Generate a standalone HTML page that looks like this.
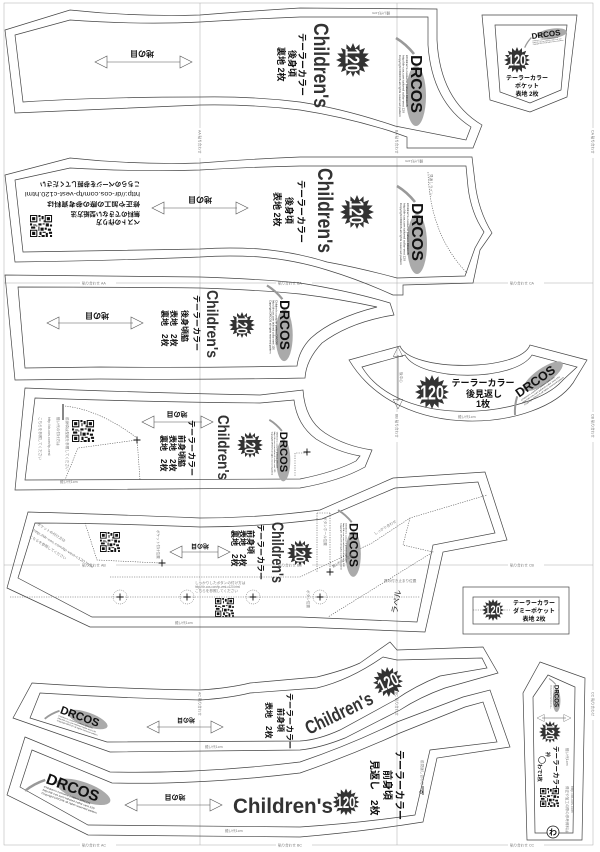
<!DOCTYPE html>
<html><head><meta charset="utf-8"><style>
html,body{margin:0;padding:0;background:#fff}
svg{display:block}
text{font-family:"Liberation Sans","Noto Sans CJK JP",sans-serif}
.o{fill:none;stroke:#444;stroke-width:.7}
.g{stroke:#aaa;stroke-width:.5;fill:none}
.d{fill:none;stroke:#555;stroke-width:.6;stroke-dasharray:1.2 1.2}
.j{font-weight:bold;fill:#111}
.t{font-size:3.6px;fill:#777}
.ch{font-weight:bold;fill:#333}
.ar{fill:none;stroke:#555;stroke-width:.6}
</style></head><body>
<svg width="600" height="852" viewBox="0 0 600 852" xmlns="http://www.w3.org/2000/svg">
<defs>
<g id="b120">
<polygon fill="#333" points="10,0 6.87,1.37 9.24,3.83 5.82,3.89 7.07,7.07 3.89,5.82 3.83,9.24 1.37,6.87 0,10 -1.37,6.87 -3.83,9.24 -3.89,5.82 -7.07,7.07 -5.82,3.89 -9.24,3.83 -6.87,1.37 -10,0 -6.87,-1.37 -9.24,-3.83 -5.82,-3.89 -7.07,-7.07 -3.89,-5.82 -3.83,-9.24 -1.37,-6.87 0,-10 1.37,-6.87 3.83,-9.24 3.89,-5.82 7.07,-7.07 5.82,-3.89 9.24,-3.83 6.87,-1.37"/>
<text x="0" y="4.3" font-size="12" font-weight="bold" fill="#fff" text-anchor="middle" textLength="14" lengthAdjust="spacingAndGlyphs">120</text>
</g>
<g id="logo">
<path d="M-46,21 Q-40,11 -30,3" stroke="#999" stroke-width="2.6" fill="none"/>
<ellipse cx="12" cy="1" rx="30" ry="10" fill="#aaa"/>
<text x="0" y="6" font-size="16" font-weight="bold" fill="#111" text-anchor="middle" textLength="58" lengthAdjust="spacingAndGlyphs">DRCOS</text>
<text x="-29" y="11" font-size="2.6" fill="#222" textLength="52" lengthAdjust="spacingAndGlyphs">Children's costume pattern DRCOS</text>
<text x="-29" y="14.5" font-size="2.6" fill="#222" textLength="58" lengthAdjust="spacingAndGlyphs">http://dr-cos.com tailored collar vest 120</text>
<text x="-29" y="18" font-size="2.6" fill="#222" textLength="62" lengthAdjust="spacingAndGlyphs">Copyright DRCOS all rights reserved pattern</text>
</g>
<g id="qr">
<rect width="21" height="21" fill="#fff"/>
<path d="M0,0h7v7h-7zM14,0h7v7h-7zM0,14h7v7h-7z" fill="#111"/>
<path d="M1,1h5v5h-5zM15,1h5v5h-5zM1,15h5v5h-5z" fill="#fff"/>
<path d="M2,2h3v3h-3zM16,2h3v3h-3zM2,16h3v3h-3zM8,0h2v2h-2zM11,1h2v3h-2zM9,3h1v3h-1zM8,8h3v2h-3zM12,8h2v1h-2zM15,8h3v3h-3zM19,9h2v2h-2zM0,8h2v2h-2zM3,9h3v1h-3zM1,11h4v2h-4zM8,11h1v4h-1zM10,12h3v3h-3zM14,12h2v2h-2zM17,13h3v2h-3zM9,16h2v3h-2zM12,16h3v1h-3zM15,17h2v4h-2zM18,16h3v2h-3zM11,19h3v2h-3zM19,19h2v2h-2zM8,20h2v1h-2zM6,10h1v1h-1zM13,5h1v2h-1z" fill="#111"/>
</g>
<g id="arrL"><polygon class="ar" points="0,0 12,-6 12,6"/></g>
<g id="plus"><path d="M-3.5,0H3.5M0,-3.5V3.5" stroke="#111" stroke-width=".9"/></g>
</defs>

<rect width="600" height="852" fill="#fff"/>
<!-- guides -->
<rect x="4" y="3" width="589" height="842" class="g"/>
<path class="g" d="M200,3V845M397,3V845M4,283H593M4,565H593"/>
<g class="t">
<rect x="80" y="281" width="36" height="4" fill="#fff"/><text x="82" y="284.3">貼り合わせ AA</text>
<rect x="276" y="281" width="36" height="4" fill="#fff"/><text x="278" y="284.3">貼り合わせ BA</text>
<rect x="508" y="281" width="36" height="4" fill="#fff"/><text x="510" y="284.3">貼り合わせ CA</text>
<rect x="80" y="563" width="36" height="4" fill="#fff"/><text x="82" y="566.3">貼り合わせ AB</text>
<rect x="276" y="563" width="36" height="4" fill="#fff"/><text x="278" y="566.3">貼り合わせ BB</text>
<rect x="508" y="563" width="36" height="4" fill="#fff"/><text x="510" y="566.3">貼り合わせ CB</text>
<rect x="80" y="843" width="36" height="4" fill="#fff"/><text x="82" y="846.3">貼り合わせ AC</text>
<rect x="276" y="843" width="36" height="4" fill="#fff"/><text x="278" y="846.3">貼り合わせ BC</text>
<rect x="508" y="843" width="36" height="4" fill="#fff"/><text x="510" y="846.3">貼り合わせ CC</text>
<rect x="198" y="128" width="4" height="30" fill="#fff"/><text transform="translate(198.7,130) rotate(90)">AA 貼り合わせ</text>
<rect x="395" y="128" width="4" height="30" fill="#fff"/><text transform="translate(395.7,130) rotate(90)">BA 貼り合わせ</text>
<rect x="591" y="128" width="4" height="30" fill="#fff"/><text transform="translate(591.7,130) rotate(90)">CA 貼り合わせ</text>
<rect x="395" y="412" width="4" height="30" fill="#fff"/><text transform="translate(395.7,414) rotate(90)">BB 貼り合わせ</text>
<rect x="591" y="412" width="4" height="30" fill="#fff"/><text transform="translate(591.7,414) rotate(90)">CB 貼り合わせ</text>
<rect x="198" y="690" width="4" height="30" fill="#fff"/><text transform="translate(198.7,692) rotate(90)">AC 貼り合わせ</text>
<rect x="395" y="690" width="4" height="30" fill="#fff"/><text transform="translate(395.7,692) rotate(90)">BC 貼り合わせ</text>
<rect x="591" y="690" width="4" height="30" fill="#fff"/><text transform="translate(591.7,692) rotate(90)">CC 貼り合わせ</text>
</g>

<!-- Piece A -->
<path class="o" d="M5,30 L70,10 Q135,17 200,15 Q250,11 300,8 L437,9 L437,40 Q440,100 482,125 L473,148 L407,148 L407,137 L390,131 Q345,117 300,110 Q250,104 200,105 Q100,109 15,113 Z"/>
<path class="o" d="M15,35 L70,20 Q140,25 200,22 Q250,19 300,17 L428,17 L428,45 Q432,102 471,127 L466,140 L395,126 Q345,109 300,102 Q250,96 200,97 Q100,97 23,102 Z"/>
<path class="ar" d="M107,62H180"/><use href="#arrL" transform="translate(95,62)"/><use href="#arrL" transform="translate(192,62) rotate(180)"/>
<text class="j" font-size="8" text-anchor="middle" transform="translate(142,51) rotate(180)">地の目</text>
<text class="t" transform="translate(390,12) rotate(180)">縫い代1cm</text>
<text class="j" font-size="9" transform="translate(299,33) rotate(90)">テーラーカラー</text>
<text class="j" font-size="9" transform="translate(289,50) rotate(90)">後身頃</text>
<text class="j" font-size="9" transform="translate(278,47) rotate(90)">裏地 2枚</text>
<text class="ch" font-size="21" transform="translate(314,23) rotate(90)" textLength="85" lengthAdjust="spacingAndGlyphs">Children's</text>
<use href="#b120" transform="translate(353,60) rotate(90) scale(1.7)"/>
<use href="#logo" transform="translate(417,84) rotate(90)"/>

<!-- Piece B -->
<path class="o" d="M5,175 L70,158 Q135,165 200,163 Q250,159 300,157 L472,157 L475,182 Q478,210 492,233 L480,250 L473,283 L403,285 L403,295 L393,295 Q360,280 327,270 Q295,260 260,257 Q230,255 200,257 Q100,261 15,262 Z"/>
<path class="o" d="M15,180 L70,168 Q140,172 200,170 Q250,167 300,166 L466,166 L468,187 Q471,213 484,232 L475,248 L465,276 L397,278 Q360,268 327,262 Q295,252 260,249 Q230,247 200,249 Q100,251 23,252 Z"/>
<path class="d" d="M428,172 Q430,235 467,273"/>
<text class="t" transform="translate(430,174) rotate(90)">見返しライン</text>
<text class="t" transform="translate(423,160) rotate(180)">縫い代1cm</text>
<path class="ar" d="M163,208H237"/><use href="#arrL" transform="translate(152,208)"/><use href="#arrL" transform="translate(248,208) rotate(180)"/>
<text class="j" font-size="8" text-anchor="middle" transform="translate(200,197) rotate(180)">地の目</text>
<g class="j" font-size="6.3">
<text transform="translate(140,220) rotate(180)">ベストの作り方</text>
<text transform="translate(140,212) rotate(180)">無料のできない型紙方法</text>
<text transform="translate(140,202) rotate(180)" textLength="93" lengthAdjust="spacingAndGlyphs">修正や加工の際の参考資料は</text>
<text transform="translate(140,192) rotate(180)" font-weight="normal" textLength="115" lengthAdjust="spacingAndGlyphs">http://dr-cos.com/tp-vest-c120.html</text>
<text transform="translate(140,182) rotate(180)" textLength="100" lengthAdjust="spacingAndGlyphs">こちらのページを参照してください</text>
</g>
<use href="#qr" transform="translate(30,215) scale(1.05)"/>
<text class="j" font-size="9" transform="translate(298,180) rotate(90)">テーラーカラー</text>
<text class="j" font-size="9" transform="translate(286,197) rotate(90)">後身頃</text>
<text class="j" font-size="9" transform="translate(274,192) rotate(90)">表地 2枚</text>
<text class="ch" font-size="21" transform="translate(318,168) rotate(90)" textLength="85" lengthAdjust="spacingAndGlyphs">Children's</text>
<use href="#b120" transform="translate(357,212) rotate(90) scale(1.7)"/>
<use href="#logo" transform="translate(418,232) rotate(90)"/>

<!-- Pocket -->
<path class="o" d="M482,15 L577,15 L567,97 L530,112 L490,100 Z"/>
<path class="o" d="M495,25 L567,25 L561,90 L530,103 L500,92 Z"/>
<use href="#logo" transform="translate(546,34) rotate(-8) scale(0.5)"/>
<use href="#b120" transform="translate(517,60) scale(1.3)"/>
<g class="j" font-size="6" text-anchor="middle">
<text x="527" y="80">テーラーカラー</text><text x="527" y="88">ポケット</text><text x="527" y="96">表地 2枚</text>
</g>

<!-- Piece C -->
<path class="o" d="M5,275 Q100,276 200,277 Q260,279 300,283 Q350,291 390,303 L394,315 Q350,322 322,343 Q306,360 305,378 Q200,380 100,379 L15,380 Z"/>
<path class="o" d="M18,287 Q100,287 200,288 Q260,290 300,294 Q340,299 377,307 Q333,318 311,338 Q299,350 297,366 Q200,368 100,367 L25,368 Z"/>
<path class="ar" d="M58,323H133"/><use href="#arrL" transform="translate(47,323)"/><use href="#arrL" transform="translate(143,323) rotate(180)"/>
<text class="j" font-size="8" text-anchor="middle" transform="translate(97,313) rotate(180)">地の目</text>
<text class="j" font-size="8" transform="translate(194,295) rotate(90)">テーラーカラー</text>
<text class="j" font-size="8" transform="translate(182,310) rotate(90)">後身頃脇</text>
<text class="j" font-size="8" transform="translate(171,310) rotate(90)">表地　2枚</text>
<text class="j" font-size="8" transform="translate(162,310) rotate(90)">裏地　2枚</text>
<text class="ch" font-size="16" transform="translate(207,290) rotate(90)" textLength="68" lengthAdjust="spacingAndGlyphs">Children's</text>
<use href="#b120" transform="translate(242,325) rotate(90) scale(1.3)"/>
<use href="#logo" transform="translate(285,325) rotate(90) scale(0.86)"/>

<!-- Crescent -->
<path class="o" d="M349,360 L400,346 C410,372 520,372 530,345 L587,360 L573,383 C540,430 400,445 349,360 Z"/>
<path class="o" d="M362,367 L405,355 C420,382 515,382 532,355 L577,367 L563,380 C530,418 400,430 362,367 Z"/>
<path class="ar" d="M398,355V401"/><use href="#arrL" transform="translate(398,347) rotate(90) scale(0.8)"/><use href="#arrL" transform="translate(398,409) rotate(-90) scale(0.8)"/>
<text class="t" transform="translate(400,372) rotate(90)">後中心</text>
<use href="#b120" transform="translate(432,392) scale(1.7)"/>
<g class="j" font-size="9" text-anchor="middle">
<text x="483" y="386">テーラーカラー</text><text x="484" y="397">後見返し</text><text x="483" y="407">1枚</text>
</g>
<use href="#logo" transform="translate(535,381) rotate(-35) scale(0.78)"/>
<text class="t" x="458" y="418">縫い代1cm</text>

<!-- Piece D -->
<path class="o" d="M25,388 Q150,393 260,395 L303,390 Q305,420 325,433 Q345,446 372,450 L365,467 Q340,481 300,488 Q150,489 15,490 Z"/>
<path class="o" d="M35,398 Q150,402 260,403 L294,400 Q297,425 316,439 Q337,452 360,456 L356,461 Q335,472 300,479 Q150,480 25,480 Z"/>
<path class="d" d="M65,406 Q100,410 137,438 L140,480 M137,440 L78,448 L65,480"/>
<path d="M63,404V420" stroke="#111" stroke-width="1"/>
<use href="#plus" transform="translate(137,440)"/>
<g class="t" fill="#333">
<text transform="translate(66,417) rotate(90)">前身頃は型紙を参照してください</text>
<text transform="translate(57,417) rotate(90)">縫い代の付け方は</text>
<text transform="translate(48,417) rotate(90)">http://dr-cos.com/tp-vest</text>
<text transform="translate(39,417) rotate(90)">こちらを参照してください</text>
</g>
<use href="#qr" transform="translate(72,420) scale(1.05)"/>
<path class="ar" d="M154,422H202"/><use href="#arrL" transform="translate(142,422)"/><use href="#arrL" transform="translate(213,422) rotate(180)"/>
<text class="j" font-size="7" text-anchor="middle" transform="translate(177,412) rotate(180)">地の目</text>
<text class="j" font-size="8" transform="translate(189,420) rotate(90)">テーラーカラー</text>
<text class="j" font-size="8" transform="translate(179,435) rotate(90)">前身頃脇</text>
<text class="j" font-size="8" transform="translate(170,435) rotate(90)">表地　2枚</text>
<text class="j" font-size="8" transform="translate(161,435) rotate(90)">裏地　2枚</text>
<text class="ch" font-size="16" transform="translate(218,415) rotate(90)" textLength="65" lengthAdjust="spacingAndGlyphs">Children's</text>
<use href="#b120" transform="translate(250,445) rotate(90) scale(1.3)"/>
<use href="#logo" transform="translate(284,452) rotate(90) scale(0.7)"/>
<path class="d" d="M307,453H295V477"/>
<use href="#plus" transform="translate(307,452)"/>
<text class="t" x="60" y="483">縫い代1cm</text>

<!-- Piece E -->
<path class="o" d="M28,512 Q100,514 200,518 Q260,518 320,510 L393,478 L485,472 L507,540 L443,552 L425,632 L300,627 L90,627 L7,588 Z"/>
<path class="o" d="M35,523 Q100,523 200,527 Q260,527 322,519 L395,488 L478,482 L495,533 L433,545 L417,622 L300,617 L92,617 L18,578 Z"/>
<path class="d" d="M85,523 L97,560 L160,563"/>
<path class="d" d="M110,577 L300,577 L372,543 L410,518 L487,495 M410,518 L403,545 L433,552 L328,617"/>
<path class="d" d="M10,597 H420"/>
<path class="d" d="M317,513 V572 M330,513 V572 M317,513 H330"/>
<text class="t" fill="#333" transform="translate(324,517) rotate(90)">ボタンホール位置</text>
<use href="#plus" transform="translate(330,572)"/>
<g class="t" fill="#333">
<text transform="translate(37,525) rotate(32)">ポケットの付け方は</text>
<text transform="translate(33,531) rotate(32)" textLength="70" lengthAdjust="spacingAndGlyphs">http://dr-cos.com/tp-vest-c120.html</text>
<text transform="translate(29,537) rotate(32)">こちらを参照してください</text>
</g>
<use href="#qr" transform="translate(100,532) scale(0.95)"/>
<text class="t" fill="#333" transform="translate(157,530) rotate(90)">ポケット付け位置</text>
<use href="#plus" transform="translate(162,563)"/>
<path class="ar" d="M182,552H218"/><use href="#arrL" transform="translate(170,552)"/><use href="#arrL" transform="translate(230,552) rotate(180)"/>
<text class="j" font-size="6" text-anchor="middle" transform="translate(200,544) rotate(180)">地の目</text>
<text class="j" font-size="8" transform="translate(258,524) rotate(90)">テーラーカラー</text>
<text class="j" font-size="8" transform="translate(248,530) rotate(90)">前身頃</text>
<text class="j" font-size="8" transform="translate(240,530) rotate(90)">表地　2枚</text>
<text class="j" font-size="8" transform="translate(232,530) rotate(90)">裏地　2枚</text>
<text class="ch" font-size="17" transform="translate(272,522) rotate(90)" textLength="61" lengthAdjust="spacingAndGlyphs">Children's</text>
<use href="#b120" transform="translate(300,553) rotate(90) scale(1.3)"/>
<use href="#logo" transform="translate(354,545) rotate(90) scale(0.76)"/>
<g fill="none" stroke="#555" stroke-width=".5" stroke-dasharray="1 1">
<circle cx="120" cy="597" r="7"/><circle cx="187" cy="597" r="7"/><circle cx="253" cy="597" r="7"/><circle cx="320" cy="597" r="7"/>
</g>
<use href="#plus" transform="translate(120,597)"/><use href="#plus" transform="translate(187,597)"/><use href="#plus" transform="translate(253,597)"/><use href="#plus" transform="translate(320,597)"/>
<text class="t" fill="#333" transform="translate(307,590) rotate(90)">ボタン位置</text>
<g class="t" fill="#333">
<text x="195" y="584">しっかりしたボタンの付け方は</text>
<text x="195" y="588" textLength="45" lengthAdjust="spacingAndGlyphs">http://dr-cos.com/tp-vest-c120.html</text>
<text x="195" y="592">こちらを参照してください</text>
</g>
<use href="#qr" transform="translate(215,598) scale(0.9)"/>
<text class="t" fill="#333" transform="translate(333,568) rotate(-31)">第1ボタン位置</text>
<text class="t" fill="#333" transform="translate(375,535) rotate(-31)">しっかり合わせ</text>
<text class="t" fill="#333" x="384" y="582">襟の付き止まり位置</text>
<text font-size="8" fill="#222" transform="translate(397,614) rotate(-80)">ラペル</text>
<text class="t" x="175" y="624">縫い代1cm</text>

<!-- Dummy pocket -->
<rect x="463" y="587" width="106" height="47" class="o"/>
<rect x="473" y="597" width="86" height="27" class="o"/>
<path class="d" d="M473,610H559"/>
<use href="#b120" transform="translate(493,610) scale(1.1)"/>
<g class="j" font-size="6" text-anchor="middle">
<rect x="510" y="599" width="48" height="24" fill="#fff"/>
<text x="534" y="605">テーラーカラー</text><text x="534" y="613">ダミーポケット</text><text x="534" y="621">表地 2枚</text>
</g>

<!-- Piece F -->
<path class="o" d="M32,683 Q120,689 200,690 Q230,688 250,683 L317,677 Q345,670 360,663 L390,642 L397,650 L483,647 L498,673 L445,688 Q420,697 400,710 L345,738 Q320,748 300,750 L110,752 L13,718 Z"/>
<path class="o" d="M40,693 Q120,698 200,700 Q230,698 250,693 L317,688 Q350,680 383,657 L397,660 L482,658 L487,668 L440,676 Q415,686 395,700 L340,730 Q318,740 300,741 L107,742 L30,718 Z"/>
<use href="#logo" transform="translate(80,716) rotate(20) scale(0.7)"/>
<path class="ar" d="M157,727H211"/><use href="#arrL" transform="translate(147,727)"/><use href="#arrL" transform="translate(223,727) rotate(180)"/>
<text class="j" font-size="6" text-anchor="middle" transform="translate(186,718) rotate(180)">地の目</text>
<text class="j" font-size="8" transform="translate(287,693) rotate(90)">テーラーカラー</text>
<text class="j" font-size="8" transform="translate(278,708) rotate(90)">前身頃</text>
<text class="j" font-size="8" transform="translate(266,702) rotate(90)">表地　2枚</text>
<text class="ch" font-size="19" transform="translate(309,735) rotate(-26)" textLength="73" lengthAdjust="spacingAndGlyphs">Children's</text>
<use href="#b120" transform="translate(388,682) rotate(-26) scale(1.5)"/>
<text class="t" x="205" y="748">縫い代1cm</text>

<!-- Piece G -->
<path class="o" d="M25,737 L110,772 Q200,774 300,762 Q350,745 397,722 L463,697 L490,690 L510,747 L437,758 L423,822 Q360,832 300,837 L88,835 L7,795 Z"/>
<path class="o" d="M32,750 L112,783 Q200,785 300,773 Q352,755 400,733 L465,707 L483,702 L497,742 L430,750 L415,815 Q360,823 300,827 L88,825 L20,787 Z"/>
<use href="#logo" transform="translate(73,787) rotate(20) scale(0.95)"/>
<path class="ar" d="M137,805H210"/><use href="#arrL" transform="translate(125,805)"/><use href="#arrL" transform="translate(222,805) rotate(180)"/>
<text class="j" font-size="7" text-anchor="middle" transform="translate(175,795) rotate(180)">地の目</text>
<text class="ch" font-size="21" x="233" y="813" textLength="100" lengthAdjust="spacingAndGlyphs">Children's</text>
<use href="#b120" transform="translate(346,802) scale(1.35)"/>
<text class="j" font-size="10" transform="translate(396,750) rotate(90)">テーラーカラー</text>
<text class="j" font-size="10" transform="translate(384,770) rotate(90)">前身頃</text>
<text class="j" font-size="10" transform="translate(371,760) rotate(90)">見返し　2枚</text>
<text class="t" fill="#333" transform="translate(421,760) rotate(90)">前見返し合わせ</text>
<path d="M423,786V795" stroke="#111" stroke-width=".8"/><circle cx="421" cy="792" r="1.3" fill="none" stroke="#111" stroke-width=".5"/>
<text class="t" x="225" y="832">縫い代1cm</text>

<!-- Piece I (collar) -->
<path class="o" d="M540,662 L585,678 L582,840 L527,840 L523,693 Z"/>
<path class="o" d="M548,675 L575,687 L573,833 L535,833 L533,697 Z"/>
<use href="#logo" transform="translate(557,696) rotate(90) scale(0.38)"/>
<path class="ar" d="M542,718H566"/><use href="#arrL" transform="translate(537,718) scale(0.6)"/><use href="#arrL" transform="translate(571,718) rotate(180) scale(0.6)"/>
<use href="#b120" transform="translate(550,732) rotate(90) scale(1.1)"/>
<text class="j" font-size="6.5" transform="translate(554,746) rotate(90)">テーラーカラー</text>
<text class="j" font-size="5" transform="translate(546,752) rotate(90)">衿</text>
<circle cx="542" cy="760" r="3.5" fill="none" stroke="#111" stroke-width=".6"/>
<text class="j" font-size="5" transform="translate(538,764) rotate(90)">わで1枚</text>
<text class="t" transform="translate(566,748) rotate(90)">縫い代1cm</text>
<g class="t" fill="#333">
<text transform="translate(566,786) rotate(90)">修正や加工の際の参考資料は</text>
<text transform="translate(571,786) rotate(90)">http://dr-cos.com</text>
</g>
<use href="#qr" transform="translate(540,788) scale(0.9)"/>
<circle cx="553" cy="832" r="6" fill="#fff" stroke="#111" stroke-width=".8"/>
<text class="j" font-size="8" x="553" y="835" text-anchor="middle">わ</text>
</svg>
</body></html>
